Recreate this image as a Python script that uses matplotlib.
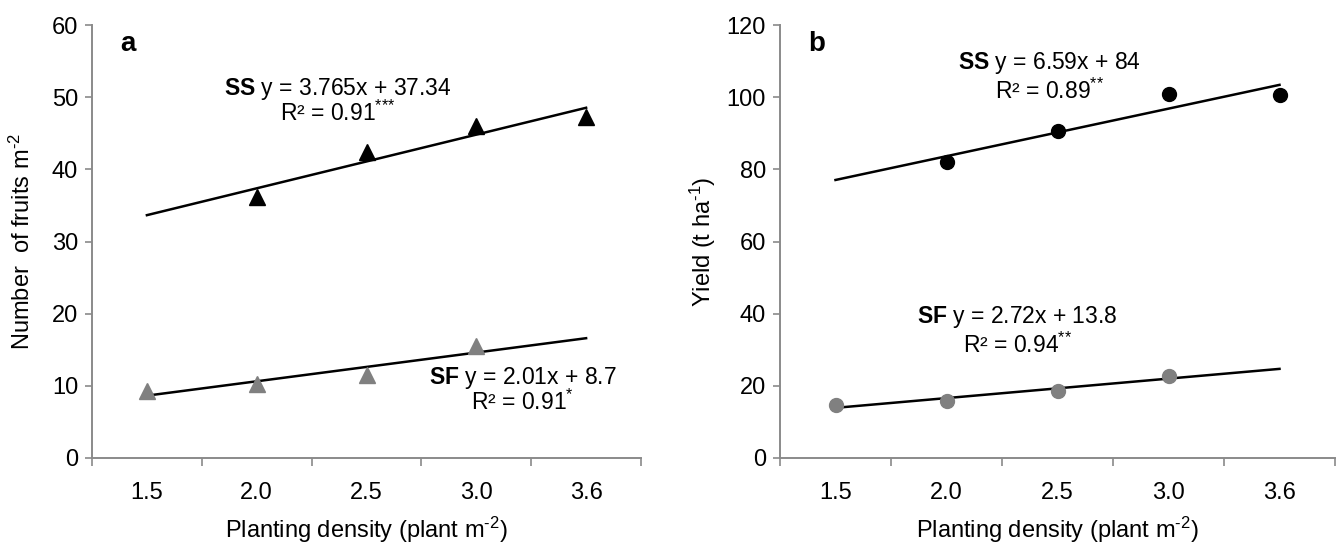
import numpy as np
import matplotlib
matplotlib.use("Agg")
import matplotlib.pyplot as plt

plt.rcParams['font.family'] = ['Liberation Sans', 'DejaVu Sans']
plt.rcParams['mathtext.fontset'] = 'custom'
plt.rcParams['mathtext.rm'] = 'Liberation Sans'
plt.rcParams['mathtext.it'] = 'Liberation Sans'
plt.rcParams['mathtext.bf'] = 'Liberation Sans:bold'

# ---- data ----
densities = ['1.5', '2.0', '2.5', '3.0', '3.6']
nan = np.nan
fruits_ss = [nan, 36.1, 42.4, 46.0, 47.3]
fruits_sf = [9.3, 10.2, 11.5, 15.5, nan]
yield_ss = [nan, 82.1, 90.5, 100.9, 100.6]
yield_sf = [14.7, 15.8, 18.5, 22.8, nan]

eq_fruits_ss = (r"$\mathbf{SS}$ y = 3.765x + 37.34", r"R² = 0.91$^{\text{***}}$")
eq_fruits_sf = (r"$\mathbf{SF}$ y = 2.01x + 8.7", r"R² = 0.91$^{\text{*}}$")
eq_yield_ss = (r"$\mathbf{SS}$ y = 6.59x + 84", r"R² = 0.89$^{\text{**}}$")
eq_yield_sf = (r"$\mathbf{SF}$ y = 2.72x + 13.8", r"R² = 0.94$^{\text{**}}$")

W, H = 1336, 550
fig = plt.figure(figsize=(W / 100, H / 100), dpi=100)

def px_axes(l, r, t, b):
    return fig.add_axes([l / W, 1 - b / H, (r - l) / W, (b - t) / H])

axA = px_axes(92, 641, 25, 458)
axB = px_axes(780, 1335, 25, 458)

pos = np.arange(1, len(densities) + 1)
spine_c = '#8a8a8a'

def trend(ax, vals):
    v = np.asarray(vals, float)
    m = ~np.isnan(v)
    k, b = np.polyfit(pos[m], v[m], 1)
    xs = np.array([pos[0], pos[-1]])
    ax.plot(xs, k * xs + b, color='black', lw=1.8, zorder=2)

def style(ax, ymax, ystep, ylabel, letter, ypad):
    ax.set_xlim(0.5, len(densities) + 0.5)
    ax.set_ylim(0, ymax)
    ax.set_yticks(np.arange(0, ymax + 1, ystep))
    ax.set_xticks(np.arange(0.5, len(densities) + 1, 1.0))
    ax.set_xticklabels([])
    ax.set_xticks(pos, minor=True)
    ax.set_xticklabels(densities, minor=True)
    ax.tick_params(axis='x', which='major', length=6, width=1.2, color=spine_c, direction='out')
    ax.tick_params(axis='x', which='minor', length=0, pad=17, labelsize=17)
    ax.tick_params(axis='y', length=5, width=1.2, color=spine_c, labelsize=17, pad=5)
    for s in ('top', 'right'):
        ax.spines[s].set_visible(False)
    for s in ('left', 'bottom'):
        ax.spines[s].set_color(spine_c)
        ax.spines[s].set_linewidth(1.4)
    ax.set_xlabel(r"Planting density (plant m$^{\text{-2}}$)", fontsize=17, labelpad=8)
    ax.set_ylabel(ylabel, fontsize=17, labelpad=ypad)
    ax.text(0.83, ymax * 0.955, letter, fontsize=20, fontweight='bold', ha='center', va='center')

def eq(ax, x, y1, y2, lines):
    ax.text(x, y1, lines[0], fontsize=16.5, ha='center', va='center', zorder=4)
    ax.text(x, y2, lines[1], fontsize=16.5, ha='center', va='center', zorder=4)

# panel a
axA.plot(pos, fruits_ss, linestyle='none', marker='^', ms=11, color='black', zorder=3)
axA.plot(pos, fruits_sf, linestyle='none', marker='^', ms=11, color='#808080', zorder=3)
trend(axA, fruits_ss)
trend(axA, fruits_sf)
style(axA, 60, 10, r"Number  of fruits m$^{\text{-2}}$", 'a', 12)
eq(axA, 2.74, 51.1, 47.8, eq_fruits_ss)
eq(axA, 4.42, 11.1, 7.7, eq_fruits_sf)

# panel b
axB.plot(pos, yield_ss, linestyle='none', marker='o', ms=10, color='black', zorder=3)
axB.plot(pos, yield_sf, linestyle='none', marker='o', ms=10, color='#808080', zorder=3)
trend(axB, yield_ss)
trend(axB, yield_sf)
style(axB, 120, 20, r"Yield (t ha$^{\text{-1}}$)", 'b', 6)
eq(axB, 2.93, 109.5, 101.7, eq_yield_ss)
eq(axB, 2.64, 39.1, 31.3, eq_yield_sf)

fig.savefig("out.png", dpi=100)
